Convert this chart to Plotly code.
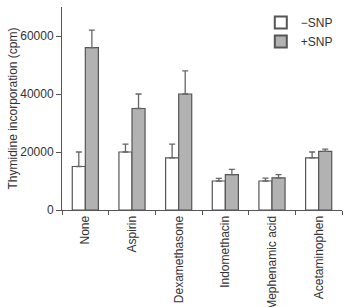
import plotly.graph_objects as go

categories = ["None", "Aspirin", "Dexamethasone", "Indomethacin", "Mephenamic acid", "Acetaminophen"]
minus_snp = [15000, 20000, 18000, 10000, 10000, 18000]
minus_snp_err = [5000, 2700, 4700, 900, 1000, 2000]
plus_snp = [56000, 35000, 40000, 12200, 11100, 20200]
plus_snp_err = [6000, 5000, 8000, 1800, 1100, 800]

FONT = "Liberation Sans, Arial, sans-serif"

fig = go.Figure()
fig.add_trace(go.Bar(
    x=categories, y=minus_snp, name="\u2212SNP",
    marker=dict(color="white", line=dict(color="#555555", width=1.2)),
    error_y=dict(type="data", symmetric=False, array=minus_snp_err,
                 arrayminus=[0]*6, color="#666666", thickness=1.3, width=3),
))
fig.add_trace(go.Bar(
    x=categories, y=plus_snp, name="+SNP",
    marker=dict(color="#b2b2b2", line=dict(color="#555555", width=1.2)),
    error_y=dict(type="data", symmetric=False, array=plus_snp_err,
                 arrayminus=[0]*6, color="#666666", thickness=1.3, width=3),
))

fig.update_layout(
    width=345, height=307,
    margin=dict(l=62, r=3, t=7, b=97),
    paper_bgcolor="white", plot_bgcolor="white",
    barmode="group", bargap=0.44, bargroupgap=0,
    font=dict(family=FONT, size=12, color="#333333"),
    showlegend=True,
    legend=dict(x=0.71, y=0.995, xanchor="left", yanchor="top",
                bgcolor="rgba(0,0,0,0)", font=dict(size=12, color="#333333"),
                tracegroupgap=0, itemsizing="constant"),
    xaxis=dict(
        automargin=False,
        showline=True, linecolor="#555555", linewidth=1,
        ticks="outside", tickson="boundaries", ticklen=4, tickcolor="#555555",
        tickangle=-90, tickfont=dict(size=12, color="#333333"),
        showgrid=False, zeroline=False,
    ),
    yaxis=dict(
        automargin=False,
        range=[0, 70000],
        tickvals=[0, 20000, 40000, 60000],
        ticktext=["0", "20000", "40000", "60000"],
        showline=True, linecolor="#555555", linewidth=1,
        ticks="outside", ticklen=5, tickcolor="#555555",
        showgrid=False, zeroline=False,
        title=dict(text="Thymidine incorporation (cpm)", font=dict(size=12, color="#333333"), standoff=0),
        tickfont=dict(size=12, color="#333333"),
    ),
)

fig.write_html("out.html")
